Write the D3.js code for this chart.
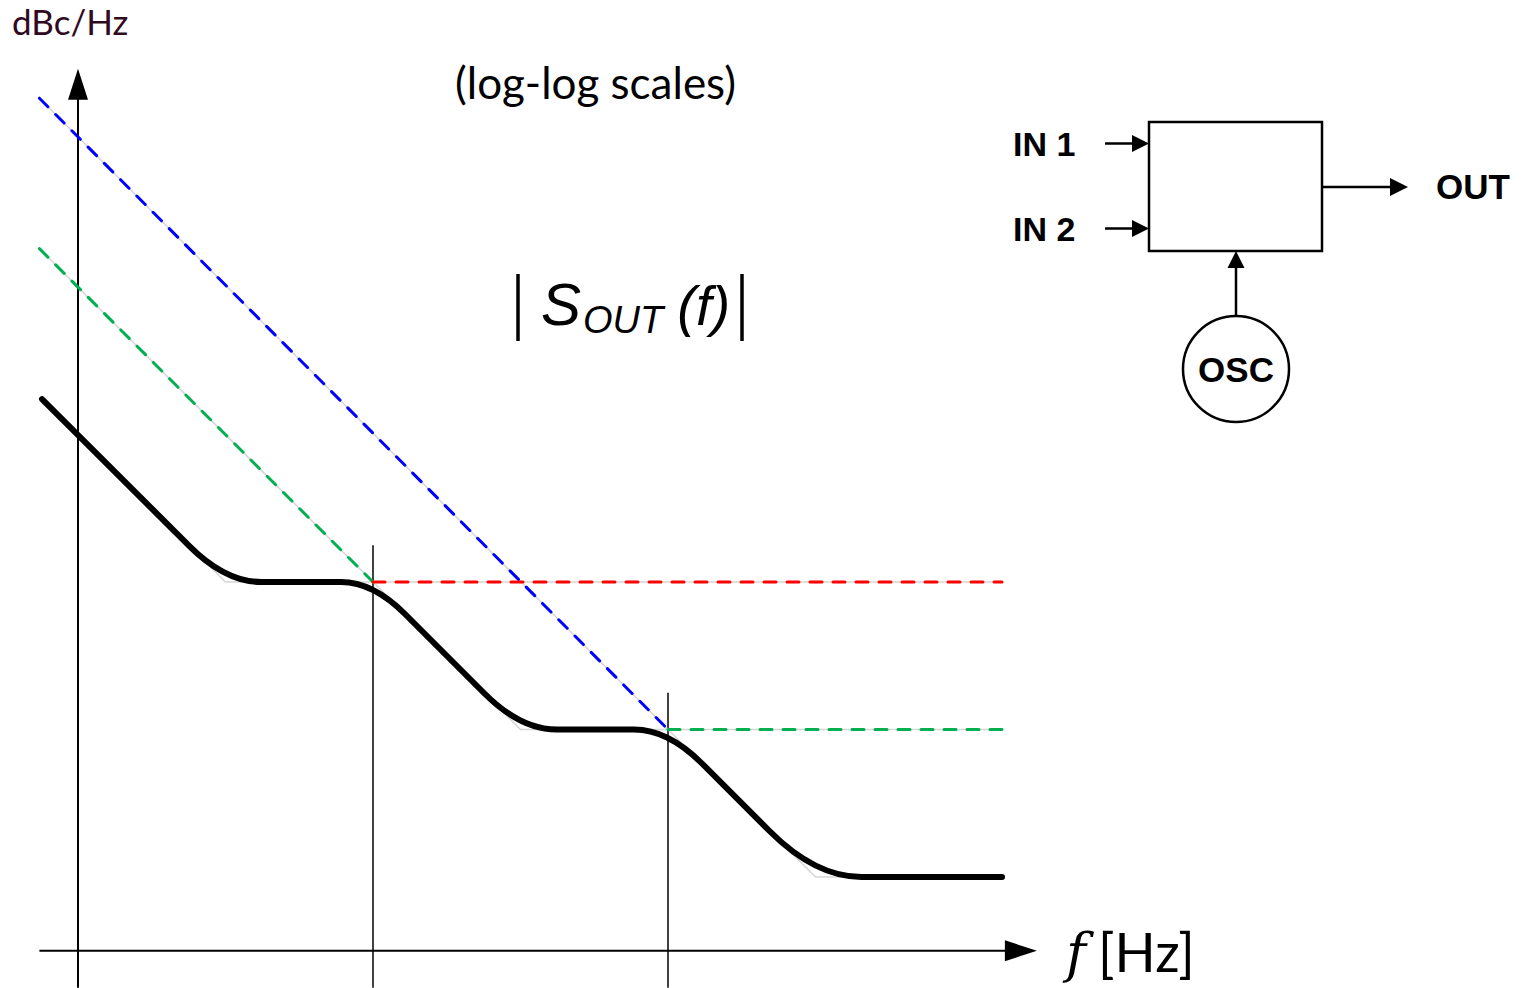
<!DOCTYPE html>
<meta charset="utf-8">
<style>
  body { margin: 0; background: #fff; }
  .calib { font-family: Lato, "Open Sans", sans-serif; }
  .bold { font-family: "Liberation Sans", Arial, sans-serif; font-weight: bold; }
</style>
<svg width="1527" height="988"></svg>
<script src="https://d3js.org/d3.v7.min.js"></script>
<script>

// corner frequencies of the two input stages (Hz) and where their markers stop (dBc/Hz)
var cornerFreqs = [1000, 10000];
var cornerTops = [-97.5, -107.5];

// output spectrum asymptote corners
var outFreq = [75.5, 316, 1000, 3162, 10000, 31623, 135600];
var outLevel = [-87.6, -100, -100, -110, -110, -120, -120];

// dashed asymptotes
var asymptotes = [
  {color: "#0000ff", freq: [74, 10000], level: [-67.2, -110]},
  {color: "#00b050", freq: [74, 1000], level: [-77.4, -100]},
  {color: "#ff0000", freq: [1000, 135600], level: [-100, -100]},
  {color: "#00b050", freq: [10000, 135600], level: [-110, -110]}
];

// axis extents
var fAxis = [74, 178000], lAxis = [-127.5, -65.2];
var axisLevel = -125, axisFreq = 100;

var svg = d3.select("svg");

var x = d3.scaleLog().domain([100, 10000]).range([78, 668]);
var y = d3.scaleLinear().domain([-100, -120]).range([582, 877]);

// axes
svg.append("line")
    .attr("x1", x(fAxis[0])).attr("x2", x(fAxis[1]) - 30)
    .attr("y1", y(axisLevel)).attr("y2", y(axisLevel))
    .attr("stroke", "#000").attr("stroke-width", 2);
svg.append("path")
    .attr("d", "M" + x(fAxis[1]) + "," + y(axisLevel) + "l-32,-10.5v21z")
    .attr("fill", "#000");

svg.append("line")
    .attr("x1", x(axisFreq)).attr("x2", x(axisFreq))
    .attr("y1", y(lAxis[0])).attr("y2", y(lAxis[1]) + 30)
    .attr("stroke", "#000").attr("stroke-width", 2);
svg.append("path")
    .attr("d", "M" + x(axisFreq) + "," + y(lAxis[1]) + "l-10,31h20z")
    .attr("fill", "#000");

// corner markers
svg.append("g").selectAll("line")
  .data(cornerFreqs)
  .enter().append("line")
    .attr("x1", function(d) { return x(d); })
    .attr("x2", function(d) { return x(d); })
    .attr("y1", function(d, i) { return y(cornerTops[i]); })
    .attr("y2", y(lAxis[0]))
    .attr("stroke", "#000").attr("stroke-width", 1.5);

var line = d3.line()
    .x(function(d) { return x(d[0]); })
    .y(function(d) { return y(d[1]); });

// faint guide under the dashes and the curve
svg.append("g").selectAll("path")
  .data(asymptotes)
  .enter().append("path")
    .attr("d", function(d) { return line(d3.zip(d.freq, d.level)); })
    .attr("fill", "none").attr("stroke", "#d6d6d6").attr("stroke-width", 1.5);
svg.append("path")
    .attr("d", line(d3.zip(outFreq, outLevel)))
    .attr("fill", "none").attr("stroke", "#d6d6d6").attr("stroke-width", 1.5);

svg.append("g").selectAll("path")
  .data(asymptotes)
  .enter().append("path")
    .attr("d", function(d) { return line(d3.zip(d.freq, d.level)); })
    .attr("fill", "none")
    .attr("stroke", function(d) { return d.color; })
    .attr("stroke-width", 3)
    .attr("stroke-linecap", "round")
    .attr("stroke-dasharray", "12,11");

// output curve with rounded corners
var pts = outFreq.map(function(f, i) { return [x(f), y(outLevel[i])]; });
var radius = [0, 36, 32, 36, 34, 46];
var p = d3.path();
p.moveTo(pts[0][0], pts[0][1]);
for (var i = 1; i < pts.length - 1; i++) {
  var c = pts[i], a = pts[i - 1], b = pts[i + 1], r = radius[i];
  var ka = r / (c[0] - a[0]), kb = r / (b[0] - c[0]);
  p.lineTo(c[0] + (a[0] - c[0]) * ka, c[1] + (a[1] - c[1]) * ka);
  p.quadraticCurveTo(c[0], c[1], c[0] + (b[0] - c[0]) * kb, c[1] + (b[1] - c[1]) * kb);
}
p.lineTo(pts[pts.length - 1][0], pts[pts.length - 1][1]);
svg.append("path")
    .attr("d", p.toString())
    .attr("fill", "none").attr("stroke", "#000")
    .attr("stroke-width", 6).attr("stroke-linecap", "round");

// labels
svg.append("text").attr("class", "calib")
    .attr("x", 12).attr("y", 35).attr("font-size", 35).attr("fill", "#300a20")
    .text("dBc/Hz");
svg.append("text").attr("class", "calib")
    .attr("x", 455).attr("y", 99).attr("font-size", 44)
    .text("(log-log scales)");

var fl = svg.append("text").attr("x", 1066).attr("y", 972).attr("font-size", 54);
fl.append("tspan").attr("font-family", "'DejaVu Serif', serif").attr("font-style", "italic").text("f");
fl.append("tspan").attr("class", "calib").attr("dx", 12).text("[Hz]");

var st = svg.append("text").attr("x", 541).attr("y", 325)
    .attr("font-family", "'Liberation Sans', Arial, sans-serif").attr("font-style", "italic");
st.append("tspan").attr("font-size", 60).text("S");
st.append("tspan").attr("font-size", 38).attr("dy", 8).attr("dx", 2).text("OUT");
st.append("tspan").attr("font-size", 56).attr("dy", -8).attr("dx", 14).text("(f)");
[518, 742].forEach(function(bx) {
  svg.append("line").attr("x1", bx).attr("x2", bx).attr("y1", 274).attr("y2", 341)
      .attr("stroke", "#000").attr("stroke-width", 3.5);
});

// block diagram
var blk = svg.append("g").attr("stroke", "#000").attr("stroke-width", 2.5).attr("fill", "none");
blk.append("rect").attr("x", 1149).attr("y", 122).attr("width", 173).attr("height", 129);
blk.append("circle").attr("cx", 1236).attr("cy", 369).attr("r", 53);
blk.append("line").attr("x1", 1105).attr("x2", 1135).attr("y1", 143.5).attr("y2", 143.5);
blk.append("line").attr("x1", 1105).attr("x2", 1135).attr("y1", 228.5).attr("y2", 228.5);
blk.append("line").attr("x1", 1322).attr("x2", 1392).attr("y1", 187).attr("y2", 187);
blk.append("line").attr("x1", 1236).attr("x2", 1236).attr("y1", 316).attr("y2", 265);

var heads = svg.append("g").attr("fill", "#000");
heads.append("path").attr("d", "M1149,143.5l-17,-8.5v17z");
heads.append("path").attr("d", "M1149,228.5l-17,-8.5v17z");
heads.append("path").attr("d", "M1408,187l-18,-9v18z");
heads.append("path").attr("d", "M1236,251l-8.5,17h17z");

svg.append("text").attr("class", "bold").attr("x", 1013).attr("y", 156).attr("font-size", 34).text("IN 1");
svg.append("text").attr("class", "bold").attr("x", 1013).attr("y", 241).attr("font-size", 34).text("IN 2");
svg.append("text").attr("class", "bold").attr("x", 1436).attr("y", 199).attr("font-size", 35).text("OUT");
svg.append("text").attr("class", "bold").attr("x", 1236).attr("y", 382).attr("font-size", 35)
    .attr("text-anchor", "middle").text("OSC");

</script>
